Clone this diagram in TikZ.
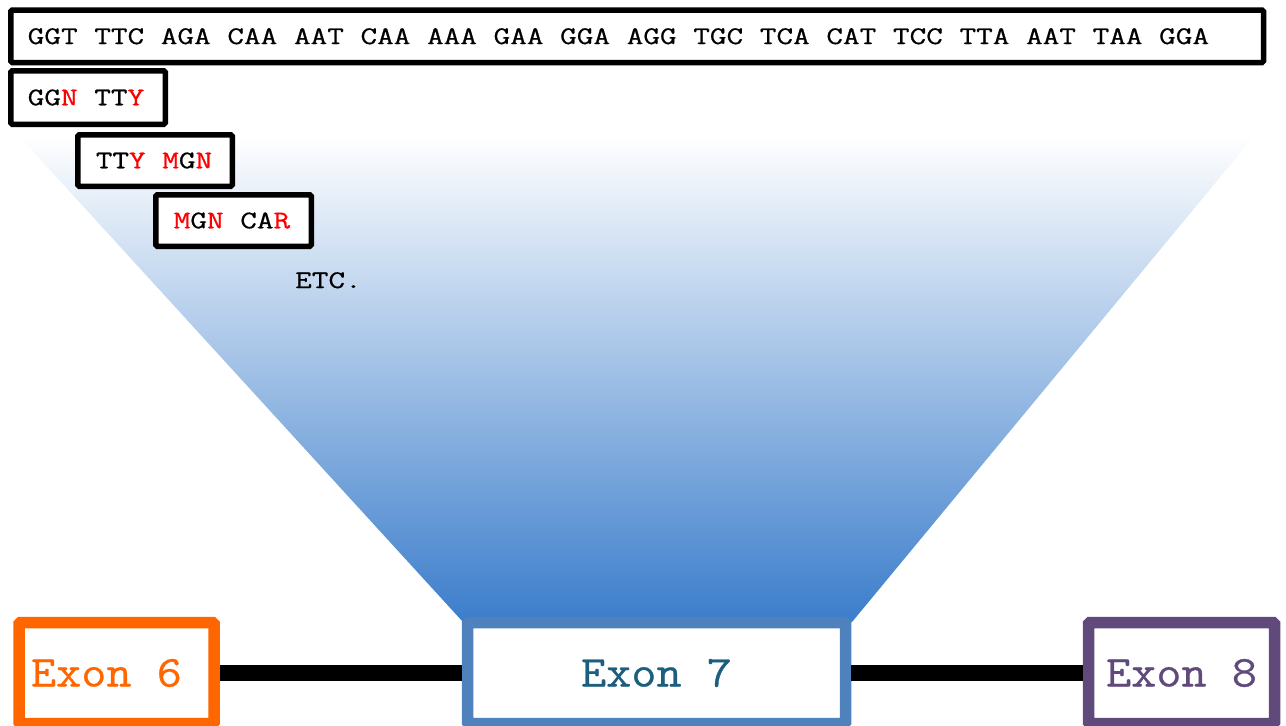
\documentclass[tikz,border=0pt]{standalone}
\usepackage{fontspec}
\usepackage{graphicx}
\newfontfamily\cour[FakeBold=0.6]{Latin Modern Mono}
\definecolor{exsix}{RGB}{255,102,0}
\definecolor{exseven}{RGB}{79,129,189}
\definecolor{exseventext}{RGB}{27,94,126}
\definecolor{exeight}{RGB}{96,74,123}
\definecolor{fanblue}{RGB}{59,125,203}
\newcommand{\rd}[1]{\textcolor{red}{#1}}
\newcommand{\sq}[1]{\scalebox{1.272}[1]{\spaceskip=0pt\xspaceskip=0pt\cour\fontsize{25.4}{30}\selectfont #1}}
\newcommand{\ex}[1]{\scalebox{1.105}[1]{\spaceskip=0pt\xspaceskip=0pt\cour\fontsize{44.2}{50}\selectfont #1}}
\begin{document}
\begin{tikzpicture}[x=1pt,y=-1pt,
  seqbox/.style={draw=black, line width=5.5pt, fill=white, rounded corners=1.5pt,
    anchor=west, align=left, inner ysep=0pt},
  seqtext/.style={inner sep=0pt},
  exonbox/.style={line width=11.5pt, fill=white, minimum height=101pt, rounded corners=1.5pt},
  intron/.style={line width=16pt, draw=black}
]
\useasboundingbox (0,0) rectangle (1286,726);
% fan
\shade[top color=white, bottom color=fanblue]
  (18,135) -- (1255,135) -- (852,622) -- (463,622) -- cycle;
% sequence boxes
\node[seqbox, minimum height=52.5pt, text width=1218.75pt, inner xsep=17pt] (seq) at (8,36.25)
  {\sq{GGT TTC AGA CAA AAT CAA AAA GAA GGA AGG TGC TCA CAT TCC TTA AAT TAA GGA}};
\node[seqbox, minimum height=53.5pt, text width=120.5pt, inner xsep=17pt] (w1) at (8,97.5)
  {\sq{GG\rd{N} TT\rd{Y}}};
\node[seqbox, minimum height=51.5pt, text width=118.5pt, inner xsep=18pt] (w2) at (75,160.5)
  {\sq{TT\rd{Y} \rd{M}G\rd{N}}};
\node[seqbox, minimum height=51.5pt, text width=119.5pt, inner xsep=18pt] (w3) at (153,220.5)
  {\sq{\rd{M}G\rd{N} CA\rd{R}}};
\node[seqtext, anchor=base west] (etc) at (295,288) {\sq{ETC.}};
% exons
\node[exonbox, draw=exsix, text=exsix, text width=171pt, inner xsep=12pt, align=left] (e6) at (116.5,673) {\ex{Exon 6}};
\node[exonbox, draw=exseven, text=exseventext, minimum width=378pt] (e7) at (656.5,673) {\ex{Exon 7}};
\node[exonbox, draw=exeight, text=exeight, minimum width=186pt] (e8) at (1181.5,673) {\ex{Exon 8}};
\draw[intron] (e6) -- (e7);
\draw[intron] (e7) -- (e8);
\end{tikzpicture}
\end{document}
